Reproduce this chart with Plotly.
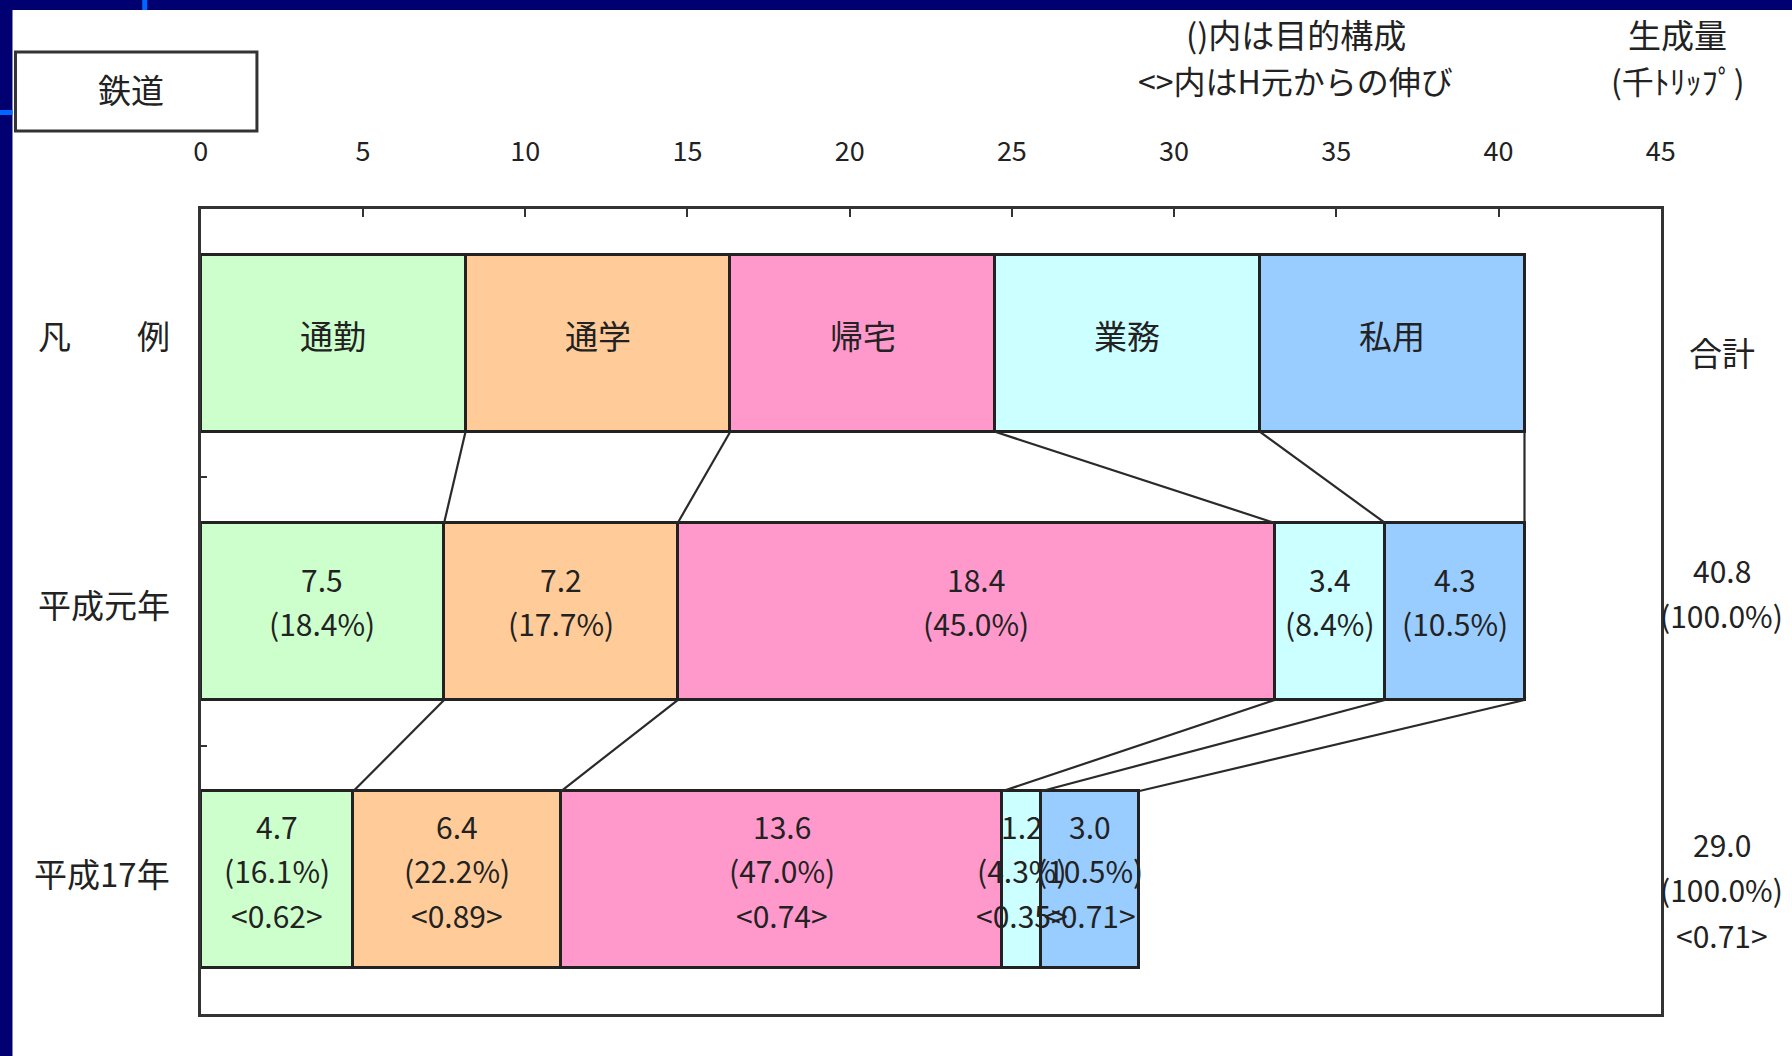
import numpy as np
import plotly.graph_objects as go

# ── Data ──────────────────────────────────────────────────────────────────────
ROWS = ["凡　　例", "平成元年", "平成17年"]
PURPOSES = ["通勤", "通学", "帰宅", "業務", "私用"]

H1_VALUES = [7.5, 7.2, 18.4, 3.4, 4.3]          # 千トリップ
H1_SHARES = [18.4, 17.7, 45.0, 8.4, 10.5]        # %
H17_VALUES = [4.7, 6.4, 13.6, 1.2, 3.0]
H17_SHARES = [16.1, 22.2, 47.0, 4.3, 10.5]
H17_GROWTH = [0.62, 0.89, 0.74, 0.35, 0.71]      # H元からの伸び

TOTALS = [40.8, 29.0]
TOTAL_SHARE = 100.0
TOTAL_GROWTH = 0.71
X_TICKS = list(range(0, 50, 5))

# ── Style ─────────────────────────────────────────────────────────────────────
COLORS = ["#CCFFCC", "#FFCC99", "#FF99CC", "#CCFFFF", "#99CCFF"]
FONT = "Noto Sans CJK JP, Noto Sans, sans-serif"
INK = "#222222"
NAVY = "#000070"
W, H = 1792, 1056
BAR_W = 0.66

# the screenshot comes out squeezed a little horizontally (measured: ~0.989x, +4.5px),
# so page-pixel targets are mapped back to paper fractions here
_SX, _OX = 0.9894, 4.5


def px(x):
    return (x - _OX) / _SX / W


fig = go.Figure()

legend_w = [TOTALS[0] / len(PURPOSES)] * len(PURPOSES)
for i, name in enumerate(PURPOSES):
    fig.add_trace(go.Bar(
        y=ROWS, x=[legend_w[i], H1_VALUES[i], H17_VALUES[i]],
        orientation="h", width=BAR_W, name=name,
        marker=dict(color=COLORS[i], line=dict(color=INK, width=3)),
        hoverinfo="skip", showlegend=False,
    ))

# ── Segment labels ────────────────────────────────────────────────────────────
def _centers(vals):
    c = np.cumsum(vals)
    return c - np.asarray(vals) / 2


def _note(text, x, y, size=30, **kw):
    kw.setdefault("xanchor", "center")
    return dict(x=x, y=y, text=text, showarrow=False, yanchor="middle",
                font=dict(size=size, color=INK, family=FONT), **kw)


ann = []
# row names (drawn as notes so they sit a touch above the row centre, like the source)
for row, dy in zip(ROWS, [8, 8, 7]):
    ann.append(_note(row, px(169), row, size=33, xref="paper", xanchor="right", yshift=dy))

for x, name in zip(_centers(legend_w), PURPOSES):
    ann.append(_note(name, x, ROWS[0], size=33, yshift=8))

for x, v, s in zip(_centers(H1_VALUES), H1_VALUES, H1_SHARES):
    ann.append(_note(f"{v:.1f}", x, ROWS[1], yshift=33))
    ann.append(_note(f"({s:.1f}%)", x, ROWS[1], yshift=-11))

for x, v, s, g in zip(_centers(H17_VALUES), H17_VALUES, H17_SHARES, H17_GROWTH):
    ann.append(_note(f"{v:.1f}", x, ROWS[2], yshift=54))
    ann.append(_note(f"({s:.1f}%)", x, ROWS[2], yshift=10))
    ann.append(_note(f"&lt;{g:.2f}&gt;", x, ROWS[2], yshift=-35))

# totals column on the right
RX = px(1722)
ann.append(_note("合計", RX, ROWS[0], size=33, xref="paper", yshift=-9))
ann.append(_note(f"{TOTALS[0]:.1f}", RX, ROWS[1], xref="paper", yshift=42))
ann.append(_note(f"({TOTAL_SHARE:.1f}%)", RX, ROWS[1], xref="paper", yshift=-3))
ann.append(_note(f"{TOTALS[1]:.1f}", RX, ROWS[2], xref="paper", yshift=36))
ann.append(_note(f"({TOTAL_SHARE:.1f}%)", RX, ROWS[2], xref="paper", yshift=-9))
ann.append(_note(f"&lt;{TOTAL_GROWTH:.2f}&gt;", RX, ROWS[2], xref="paper", yshift=-55))

# header notes
ann.append(_note("()内は目的構成", px(1295), 1 - 34 / H, size=33, xref="paper", yref="paper"))
ann.append(_note("&lt;&gt;内はH元からの伸び", px(1295), 1 - 80 / H, size=32, xref="paper", yref="paper"))
ann.append(_note("生成量", px(1678), 1 - 34 / H, size=33, xref="paper", yref="paper"))
ann.append(_note("(千ﾄﾘｯﾌﾟ)", px(1678), 1 - 80 / H, size=32, xref="paper", yref="paper"))
ann.append(_note("鉄道", px(128), 1 - 89 / H, size=33, xref="paper", yref="paper"))

# ── Connector lines between segment boundaries ────────────────────────────────
shapes = []
half = BAR_W / 2
cum_leg = np.cumsum(legend_w)
cum_h1 = np.cumsum(H1_VALUES)
cum_h17 = np.cumsum(H17_VALUES)
for a, b in zip(cum_leg, cum_h1):
    shapes.append(dict(type="line", xref="x", yref="y", x0=a, y0=0 + half, x1=b, y1=1 - half,
                       line=dict(color="#2a2a2a", width=2.2)))
for a, b in zip(cum_h1, cum_h17):
    shapes.append(dict(type="line", xref="x", yref="y", x0=a, y0=1 + half, x1=b, y1=2 - half,
                       line=dict(color="#2a2a2a", width=2.2)))

# slide decoration: navy frame + "鉄道" box
shapes += [
    dict(type="rect", xref="paper", yref="paper", x0=-0.01, x1=1.01, y0=1 - 10 / H, y1=1,
         fillcolor=NAVY, line_width=0, layer="above"),
    dict(type="rect", xref="paper", yref="paper", x0=-0.01, x1=px(9), y0=0, y1=1,
         fillcolor=NAVY, line_width=0, layer="above"),
    dict(type="rect", xref="paper", yref="paper", x0=px(139), x1=px(144), y0=1 - 10 / H, y1=1,
         fillcolor="#0066FF", line_width=0, layer="above"),
    dict(type="rect", xref="paper", yref="paper", x0=-0.01, x1=px(9), y0=1 - 115 / H, y1=1 - 110 / H,
         fillcolor="#0066FF", line_width=0, layer="above"),
    dict(type="rect", xref="paper", yref="paper", x0=px(12), x1=px(254), y0=1 - 131 / H, y1=1 - 52 / H,
         fillcolor="white", line=dict(color="#333333", width=3), layer="below"),
]

fig.update_layout(
    width=W, height=H, autosize=False,
    barmode="stack", bargap=0,
    paper_bgcolor="white", plot_bgcolor="white",
    margin=dict(l=0, r=0, t=0, b=0),
    font=dict(family=FONT, color=INK),
    annotations=ann, shapes=shapes,
    xaxis=dict(
        domain=[px(197.7), px(1661)], range=[0, 45], side="top",
        tickvals=X_TICKS, ticks="inside", ticklen=8, tickwidth=2, tickcolor="#333333",
        ticklabelstandoff=34, tickfont=dict(size=27, family=FONT, color=INK),
        showline=True, linecolor="#333333", linewidth=3, mirror=True,
        showgrid=False, zeroline=False, fixedrange=True,
    ),
    yaxis=dict(
        domain=[1 - 1014 / H, 1 - 209 / H], type="category",
        categoryorder="array", categoryarray=ROWS, range=[2.5, -0.5],
        tickson="boundaries", ticks="inside", ticklen=6, tickwidth=2, tickcolor="#333333",
        showticklabels=False,
        showline=True, linecolor="#333333", linewidth=3, mirror=True,
        showgrid=False, zeroline=False, fixedrange=True,
    ),
)

# the page body has an 8px default margin; drop it so the figure fills the window
fig.write_html(
    "out.html",
    config={"responsive": False, "displayModeBar": False},
    post_script=(
        "document.body.style.margin='0';document.body.style.overflow='hidden';"
        "document.body.style.background='linear-gradient(to right, #000070 9px, white 9px)';"
    ),
)
